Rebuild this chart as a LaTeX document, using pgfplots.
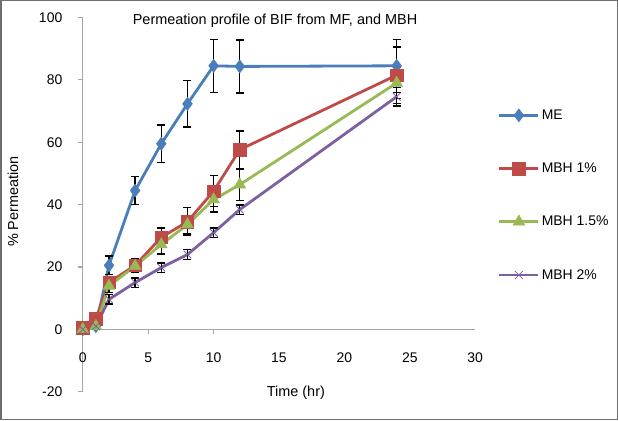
\documentclass[border=0pt]{standalone}
\usepackage{fontspec}
\setmainfont{Liberation Sans}
\usepackage{pgfplots}
\pgfplotsset{compat=1.18}
\definecolor{cME}{HTML}{4A7EBB}
\definecolor{cR}{HTML}{BE4B48}
\definecolor{cG}{HTML}{98B954}
\definecolor{cP}{HTML}{7D60A0}
\definecolor{axgray}{HTML}{A6A6A6}
\definecolor{frame}{HTML}{6E6E6E}
\pgfplotsset{
  eb/.style={error bars/.cd, y dir=both, y explicit,
    error bar style={black, line width=1.3bp, solid},
    error mark options={rotate=90, mark size=4bp, black, line width=1.3bp, solid}},
}
\pgfplotstableread{
t v e
0 0 0
1 1 0
2 20.5 3
4 44.5 4.4
6 59.5 6
8 72.3 7.4
10 84.5 8.5
12 84.3 8.5
24 84.5 8.5
}\dataME
\pgfplotstableread{
t v e
0 0.5 0
1 3.4 0
2 15 2
4 20.5 2
6 29.5 3
8 34.5 4.5
10 44.3 5
12 57.6 6
24 81.5 9
}\dataR
\pgfplotstableread{
t v e
0 0 0
1 1 0
2 13.9 2
4 20.3 2
6 27.2 3
8 33.6 3
10 41.6 4
12 46.4 5
24 79 5
}\dataG
\pgfplotstableread{
t v e
0 0 0
1 1 0
2 9.6 1.5
4 15 1.5
6 19.8 1.5
8 24 1.5
10 31 1.5
12 38.4 1.5
24 74.6 3
}\dataP
\begin{document}
\begin{tikzpicture}
\begin{axis}[
  scale only axis, width=392bp, height=373.9bp,
  xmin=0, xmax=30, ymin=-20, ymax=100,
  clip=false,
  axis x line=middle, axis y line=left,
  axis line style={-, draw=axgray, line width=1.2bp},
  hide obscured x ticks=false, hide obscured y ticks=false,
  xtick={0,5,...,30}, ytick={-20,0,...,100},
  minor xtick={5,10},
  every major x tick/.append style={draw=none},
  every minor x tick/.append style={draw=axgray, line width=1.2bp},
  every major y tick/.append style={draw=axgray, line width=1.2bp},
  major tick length=5bp, minor tick length=5bp,
  tick align=outside,
  /pgf/number format/assume math mode=true,
  tick label style={font=\fontsize{14}{16}\selectfont, text=black},
  yticklabel style={xshift=-12bp},
  xticklabel style={yshift=-15bp},
  every axis title/.style={at={(axis description cs:0.49,0.992)}, anchor=center, font=\fontsize{14.5}{17}\selectfont},
  title={Permeation profile of BIF from MF, and MBH},
  every axis x label/.style={at={(axis description cs:0.543,-0.004)}, anchor=center, font=\fontsize{14.5}{17}\selectfont},
  xlabel={Time (hr)},
  every axis y label/.style={at={(axis description cs:-0.178,0.508)}, rotate=90, anchor=center, font=\fontsize{14.5}{17}\selectfont},
  ylabel={\% Permeation},
  legend style={at={(axis description cs:1.05,0.525)}, anchor=west, draw=none, fill=none,
    font=\fontsize{14}{16}\selectfont, row sep=38bp},
  legend cell align=left,
  legend image code/.code={\draw[mark repeat=2, mark phase=2] plot coordinates {(0bp,0bp) (19.5bp,0bp) (39bp,0bp)};},
]
\addplot[color=cME, line width=2.8bp, mark=diamond*, mark size=6.5bp, mark options={solid, fill=cME, draw=cME, line width=0.5bp}, eb]
  table[x=t, y=v, y error=e] {\dataME};
\addlegendentry{ME}
\addplot[color=cR, line width=2.8bp, mark=square*, mark size=6.2bp, mark options={solid, fill=cR, draw=cR, line width=0.5bp}, eb]
  table[x=t, y=v, y error=e] {\dataR};
\addlegendentry{MBH 1\%}
\addplot[color=cG, line width=2.8bp, mark=triangle*, mark size=6.8bp, mark options={solid, fill=cG, draw=cG, line width=0.5bp}, eb]
  table[x=t, y=v, y error=e] {\dataG};
\addlegendentry{MBH 1.5\%}
\addplot[color=cP, line width=2.8bp, mark=x, mark size=5.5bp, mark options={solid, draw=cP, line width=0.8bp}, eb]
  table[x=t, y=v, y error=e] {\dataP};
\addlegendentry{MBH 2\%}
\coordinate (bl) at (rel axis cs:-0.2092,-0.0746);
\coordinate (tr) at (rel axis cs:1.3622,1.0447);
\end{axis}
\pgfresetboundingbox
\draw[frame, line width=1.5bp] (bl) rectangle (tr);
\end{tikzpicture}
\end{document}
